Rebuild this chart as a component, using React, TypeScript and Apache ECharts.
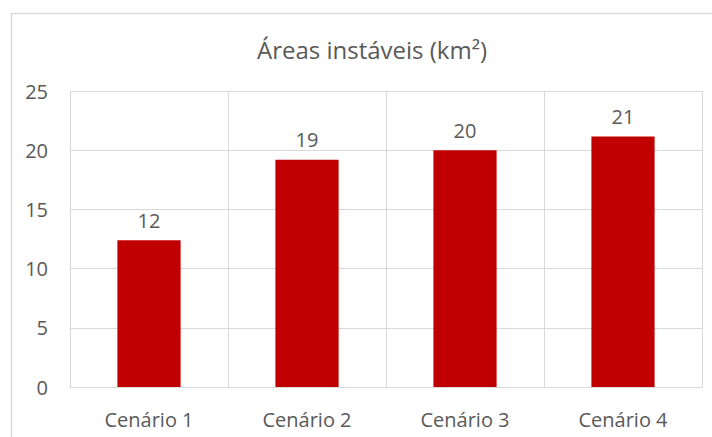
import React, { useEffect, useRef } from "react";
import * as echarts from "echarts";

const categories = ["Cenário 1", "Cenário 2", "Cenário 3", "Cenário 4"];
const values = [12.4, 19.2, 20.0, 21.15];
const yTicks = { min: 0, max: 25, interval: 5 };
const titleText = "Áreas instáveis (km²)";

const FONT = "'Open Sans', sans-serif";
const TEXT = "#595959";
const GRID = "#d9d9d9";

export default function App() {
  const ref = useRef<HTMLDivElement>(null);
  useEffect(() => {
    if (!ref.current) return;
    const chart = echarts.init(ref.current, null, { renderer: "svg" });
    chart.setOption({
      animation: false,
      backgroundColor: "#ffffff",
      graphic: [
        {
          type: "rect",
          shape: { x: 11.5, y: 13.5, width: 760, height: 460 },
          style: { fill: "none", stroke: GRID, lineWidth: 1.5 },
          silent: true,
        },
      ],
      title: {
        text: titleText,
        left: 367,
        top: 32,
        textAlign: "center",
        textStyle: { fontFamily: FONT, fontSize: 24, fontWeight: "normal", color: TEXT },
      },
      grid: { left: 70, right: 10, top: 91, bottom: 50, containLabel: false },
      xAxis: {
        type: "category",
        data: categories,
        axisLine: { show: true, lineStyle: { color: GRID, width: 1 } },
        axisTick: { show: false },
        splitLine: { show: true, lineStyle: { color: GRID, width: 1 } },
        axisLabel: { fontFamily: FONT, fontSize: 20, color: TEXT, margin: 22 },
      },
      yAxis: {
        type: "value",
        min: yTicks.min,
        max: yTicks.max,
        interval: yTicks.interval,
        axisLine: { show: false },
        axisTick: { show: false },
        splitLine: { show: true, lineStyle: { color: GRID, width: 1 } },
        axisLabel: { fontFamily: FONT, fontSize: 20, color: TEXT, margin: 22 },
      },
      series: [
        {
          type: "bar",
          data: values,
          barWidth: "40%",
          itemStyle: { color: "#C00000" },
          label: {
            show: true,
            position: "top",
            distance: 10,
            fontFamily: FONT,
            fontSize: 20,
            color: TEXT,
            formatter: (p: any) => String(Math.round(p.value)),
          },
        },
      ],
    });
    return () => chart.dispose();
  }, []);
  return (
    <div
      ref={ref}
      style={{ position: "fixed", left: 0, top: 0, width: 712, height: 437 }}
    />
  );
}
